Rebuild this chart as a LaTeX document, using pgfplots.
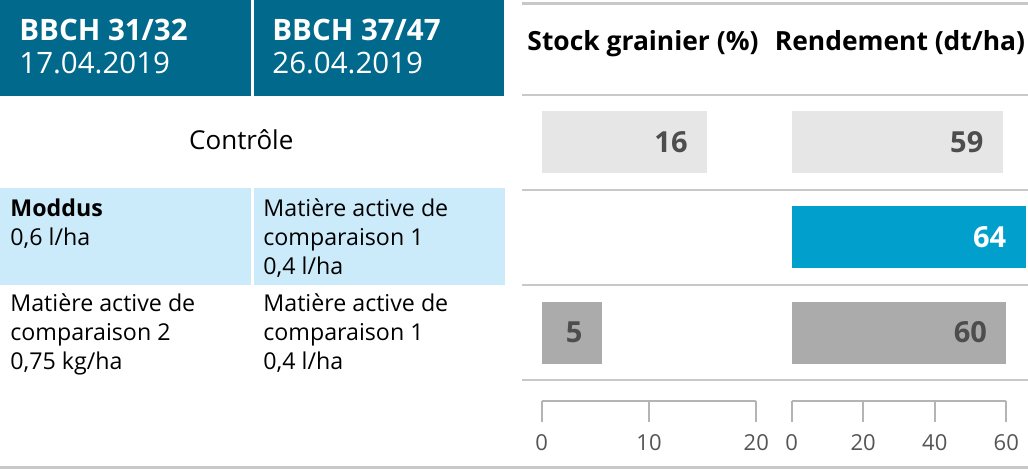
\documentclass[border=0pt]{standalone}
\usepackage{fontspec}
\setmainfont{Open Sans}
\usepackage{pgfplots}
\pgfplotsset{compat=1.18}
\usepackage{pgfplotstable}

\definecolor{hdrteal}{HTML}{00698C}
\definecolor{rowblue}{HTML}{CCEBFA}
\definecolor{barblue}{HTML}{009FCC}
\definecolor{barlight}{HTML}{E6E6E6}
\definecolor{bargray}{HTML}{ABABAB}
\definecolor{labtext}{HTML}{4D4D4D}
\definecolor{linec}{HTML}{C8C8C8}
\definecolor{tickc}{HTML}{B4B4B4}
\definecolor{ticklab}{HTML}{555555}

\newcommand\hdrfont{\fontsize{14.75}{17}\selectfont}
\newcommand\bodyfont{\fontsize{11.6}{14.5}\selectfont}
\newcommand\ctrlfont{\fontsize{13}{15}\selectfont}
\newcommand\titlefont{\bfseries\fontsize{13.2}{15}\selectfont}
\newcommand\barfont{\bfseries\fontsize{14.5}{15}\selectfont}
\newcommand\tickfont{\fontsize{11}{12}\selectfont}

% rows: 3 = Controle, 2 = Moddus, 1 = Matiere active de comparaison 2
\pgfplotstableread{
y x label
3 15.4 16
}\stockA
\pgfplotstableread{
y x label
1 5.6 5
}\stockC
\pgfplotstableread{
y x label
3 59 59
}\rendA
\pgfplotstableread{
y x label
2 65.4 64
}\rendB
\pgfplotstableread{
y x label
1 60 60
}\rendC

\pgfplotsset{
  panel/.style={
    scale only axis, width=107.3pt, height=153.15pt,
    ymin=0.284, ymax=3.5, axis y line=none,
    axis x line=bottom, axis line style={-, draw=tickc, line width=1pt},
    tick align=outside, major tick length=10.5pt,
    tick style={draw=tickc, line width=1pt},
    xticklabel style={font=\tickfont, text=ticklab, yshift=-3pt},
    /pgf/number format/assume math mode=true,
    clip=false, xbar, bar width=31pt,
  },
  barplot/.style={
    draw=none, fill=#1, bar shift=0pt,
    nodes near coords, point meta=explicit symbolic,
    nodes near coords align={anchor=east},
    nodes near coords style={inner sep=0pt, xshift=-9.5pt, font=\barfont, text=labtext},
  },
}

\begin{document}
\begin{tikzpicture}
\begin{scope}[x=0.5pt,y=-0.5pt]
  % header
  \fill[hdrteal] (0,0) rectangle (504,96);
  \draw[white, line width=1.5pt] (252.5,0) -- (252.5,96);
  \node[anchor=base west, inner sep=0, text=white, font=\hdrfont\bfseries] at (19,40.7) {BBCH 31/32};
  \node[anchor=base west, inner sep=0, text=white, font=\hdrfont] at (19,74) {17.04.2019};
  \node[anchor=base west, inner sep=0, text=white, font=\hdrfont\bfseries] at (272,40.7) {BBCH 37/47};
  \node[anchor=base west, inner sep=0, text=white, font=\hdrfont] at (272,74) {26.04.2019};
  % panel titles
  \node[anchor=base, inner sep=0, font=\titlefont] at (643,51) {Stock grainier (\%)};
  \node[anchor=base, inner sep=0, font=\titlefont] at (900,51) {Rendement (dt/ha)};
  % row 1
  \node[anchor=base, inner sep=0, font=\ctrlfont] at (241.3,150) {Contrôle};
  % row 2
  \fill[rowblue] (0,188) rectangle (505,285.5);
  \draw[white, line width=1.5pt] (252.5,188) -- (252.5,285.5);
  \node[anchor=base west, inner sep=0, font=\bodyfont\bfseries] at (10,216.5) {Moddus};
  \node[anchor=base west, inner sep=0, font=\bodyfont] at (10,245.5) {0,6 l/ha};
  \node[anchor=base west, inner sep=0, font=\bodyfont] at (263,216.5) {Matière active de};
  \node[anchor=base west, inner sep=0, font=\bodyfont] at (263,245.5) {comparaison 1};
  \node[anchor=base west, inner sep=0, font=\bodyfont] at (263,274.5) {0,4 l/ha};
  % row 3
  \node[anchor=base west, inner sep=0, font=\bodyfont] at (10,311.5) {Matière active de};
  \node[anchor=base west, inner sep=0, font=\bodyfont] at (10,340.5) {comparaison 2};
  \node[anchor=base west, inner sep=0, font=\bodyfont] at (10,369.5) {0,75 kg/ha};
  \node[anchor=base west, inner sep=0, font=\bodyfont] at (263,311.5) {Matière active de};
  \node[anchor=base west, inner sep=0, font=\bodyfont] at (263,340.5) {comparaison 1};
  \node[anchor=base west, inner sep=0, font=\bodyfont] at (263,369.5) {0,4 l/ha};
  % separators
  \foreach \yy in {3.5,95,190,285,380} {
    \draw[linec, line width=1.25pt] (522,\yy) -- (1028,\yy);
  }
  \draw[linec, line width=1.5pt] (0,467) -- (1028,467);
\end{scope}

\begin{axis}[panel, at={(270.85pt,-200.35pt)}, anchor=south west,
  xmin=0, xmax=20, xtick={0,10,20}]
  \addplot[barplot=barlight] table[x=x, y=y, meta=label] {\stockA};
  \addplot[barplot=bargray] table[x=x, y=y, meta=label] {\stockC};
\end{axis}

\begin{axis}[panel, at={(395.85pt,-200.35pt)}, anchor=south west,
  xmin=0, xmax=60, xtick={0,20,40,60}]
  \addplot[barplot=barlight] table[x=x, y=y, meta=label] {\rendA};
  \addplot[barplot=barblue, nodes near coords style={text=white}] table[x=x, y=y, meta=label] {\rendB};
  \addplot[barplot=bargray] table[x=x, y=y, meta=label] {\rendC};
\end{axis}

\pgfresetboundingbox
\path (0,0) rectangle (514pt,-235pt);
\end{tikzpicture}
\end{document}
